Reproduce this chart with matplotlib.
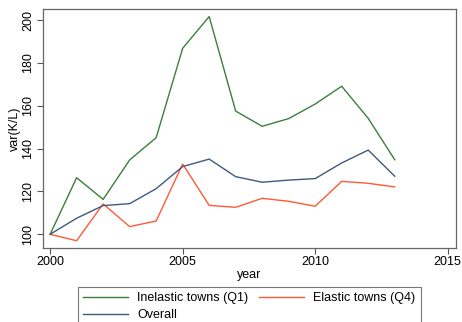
import matplotlib
matplotlib.use('Agg')
import matplotlib.pyplot as plt

years = list(range(2000, 2014))
inelastic = [100, 126.4, 116.3, 134.7, 145.1, 186.8, 201.6, 157.5, 150.4, 154.0, 160.8, 169.1, 154.1, 134.8]
elastic = [100, 97.0, 114.2, 103.6, 106.2, 132.8, 113.5, 112.6, 116.8, 115.4, 113.1, 124.7, 123.8, 122.1]
overall = [100, 107.5, 113.4, 114.3, 121.3, 131.6, 135.1, 126.9, 124.3, 125.3, 126.0, 133.3, 139.3, 127.1]

plt.rcParams['font.family'] = ['Liberation Sans', 'DejaVu Sans']

fig = plt.figure(figsize=(4.62, 3.22), dpi=100)
ax = fig.add_axes([42.7 / 462, 1 - 247.7 / 322, 413 / 462, 238.4 / 322])

l1, = ax.plot(years, inelastic, color='#3b7f3b', lw=1.0, label='Inelastic towns (Q1)')
l2, = ax.plot(years, elastic, color='#ff5a36', lw=1.0, label='Elastic towns (Q4)')
l3, = ax.plot(years, overall, color='#3d5a80', lw=1.0, label='Overall')

ax.set_xlim(1999.72, 2015.3)
ax.set_ylim(93.75, 205)
ax.set_xticks([2000, 2005, 2010, 2015])
ax.set_yticks([100, 120, 140, 160, 180, 200])
ax.tick_params(axis='both', labelsize=9, length=4, width=0.8, color='#555555', pad=2)
for lab in ax.get_yticklabels():
    lab.set_rotation(90)
    lab.set_va('center')
for s in ax.spines.values():
    s.set_color('#666666')
    s.set_linewidth(0.9)

ax.set_xlabel('year', fontsize=9, labelpad=1)
ax.set_ylabel('var(K/L)', fontsize=9, labelpad=1)

# column-major fill: put Overall second so it lands under Inelastic
leg = ax.legend([l1, l3, l2], [l1.get_label(), l3.get_label(), l2.get_label()],
                loc='upper center', bbox_to_anchor=(0.5, -0.164), borderaxespad=0,
                ncol=2, fontsize=9, frameon=True, fancybox=False, edgecolor='#555555',
                handlelength=3.6, handletextpad=0.7, columnspacing=0.9,
                borderpad=0.45, labelspacing=0.4)
leg.get_frame().set_linewidth(0.8)

fig.savefig('out.png', dpi=100)
